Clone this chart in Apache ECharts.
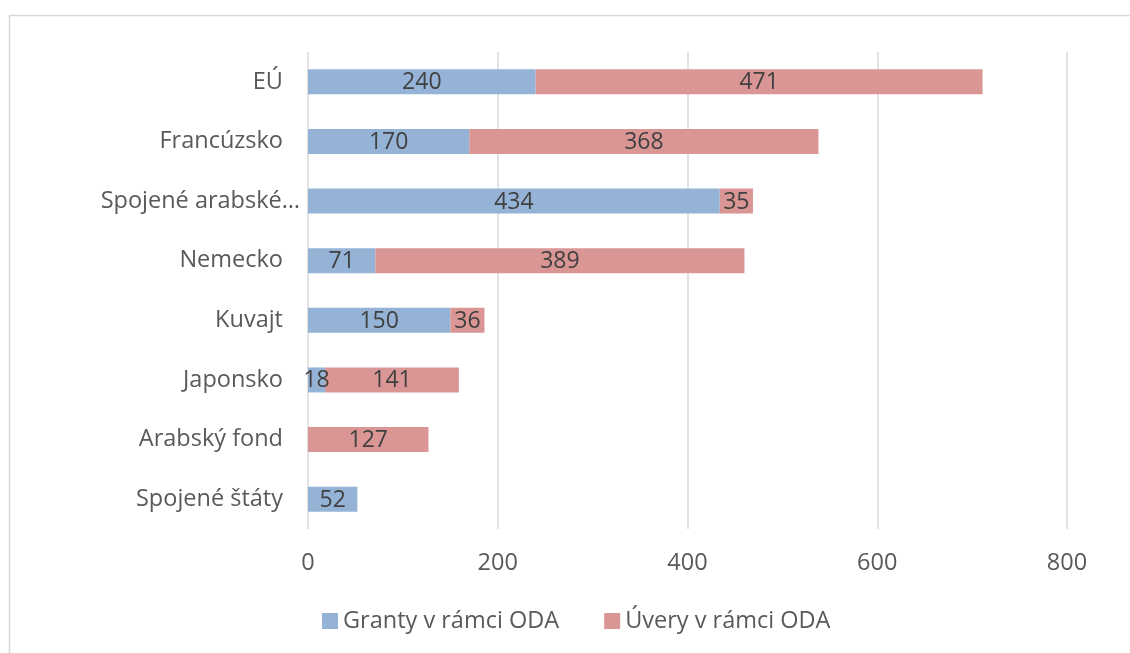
<!DOCTYPE html>
<html>
<head>
<meta charset="utf-8">
<script src="https://cdn.jsdelivr.net/npm/echarts@6/dist/echarts.min.js"></script>
<style>
  html, body { margin: 0; padding: 0; background: #fff; }
  #chart { width: 1130px; height: 653px; }
</style>
</head>
<body>
<div id="chart"></div>
<script>
// Donors, top to bottom
const categories = ['EÚ', 'Francúzsko', 'Spojené arabské…', 'Nemecko', 'Kuvajt', 'Japonsko', 'Arabský fond', 'Spojené štáty'];
// Grants within ODA
const grants = [240, 170, 434, 71, 150, 18, 0, 52];
// Loans within ODA
const loans = [471, 368, 35, 389, 36, 141, 127, 0];
const seriesNames = ['Granty v rámci ODA', 'Úvery v rámci ODA'];
const xTicks = [0, 200, 400, 600, 800];

const FONT = '"Open Sans"';
const FS = 23.5;
const chart = echarts.init(document.getElementById('chart'));

const valueLabel = {
  show: true,
  position: 'inside',
  color: '#404040',
  fontFamily: FONT,
  fontSize: 23,
  offset: [0, 1],
  formatter: p => (p.value ? String(p.value) : '')
};

chart.setOption({
  animation: false,
  backgroundColor: '#fff',
  textStyle: { fontFamily: FONT },
  graphic: [{
    type: 'rect',
    silent: true,
    shape: { x: 9.5, y: 15.5, width: 1300, height: 800 },
    style: { fill: 'none', stroke: '#D9D9D9', lineWidth: 1.5 }
  }],
  grid: { left: 308, right: 63, top: 52, bottom: 124 },
  legend: {
    data: seriesNames,
    left: 322,
    top: 609,
    padding: 0,
    itemWidth: 16,
    itemHeight: 16,
    itemGap: 45,
    icon: 'rect',
    textStyle: { color: '#595959', fontSize: FS, fontFamily: FONT }
  },
  xAxis: {
    type: 'value',
    min: xTicks[0],
    max: xTicks[xTicks.length - 1],
    interval: xTicks[1] - xTicks[0],
    axisLine: { show: false },
    axisTick: { show: false },
    splitLine: { show: true, lineStyle: { color: '#D9D9D9', width: 1.5 } },
    axisLabel: { color: '#595959', fontSize: FS, fontFamily: FONT, margin: 22 }
  },
  yAxis: {
    type: 'category',
    data: categories,
    inverse: true,
    axisLine: { show: false },
    axisTick: { show: false },
    axisLabel: {
      margin: 8,
      color: '#595959',
      fontSize: FS,
      fontFamily: FONT,
      formatter: v => (v.endsWith('…') ? '{w|' + v + '}' : '{n|' + v + '}'),
      rich: {
        n: { color: '#595959', fontSize: FS, fontFamily: FONT, padding: [0, 17, 0, 0] },
        w: { color: '#595959', fontSize: FS, fontFamily: FONT }
      }
    }
  },
  series: [
    {
      name: seriesNames[0],
      type: 'bar',
      stack: 'oda',
      data: grants,
      barWidth: 25,
      itemStyle: { color: '#95B3D7' },
      label: valueLabel
    },
    {
      name: seriesNames[1],
      type: 'bar',
      stack: 'oda',
      data: loans,
      barWidth: 25,
      itemStyle: { color: '#D99694' },
      label: valueLabel
    }
  ]
});
</script>
</body>
</html>
